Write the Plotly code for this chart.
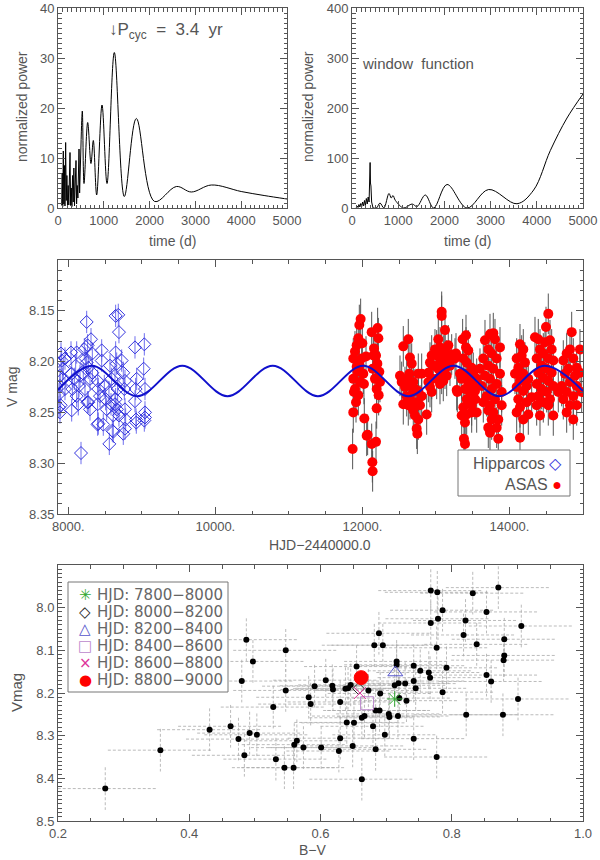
# Activity cycle figure: periodogram, window function, V light curve, colour-magnitude plot
import plotly.graph_objects as go

FONT = "Liberation Sans"
GREY = "#555555"

# --- periodogram (top left) ---
per_noise_t = [80, 92, 104, 116, 128, 140, 152, 167, 180, 194, 208, 222, 236, 250, 262, 276,
               290, 304, 318, 332, 346, 360, 374, 393, 406, 420, 434, 446, 459, 472, 486, 500]
per_noise_p = [0.5, 7.0, 0.3, 11.4, 0.8, 8.5, 0.4, 13.1, 1.5, 6.5, 0.3, 4.5, 0.6, 9.0, 11.1, 0.5,
               4.0, 0.3, 6.5, 1.2, 8.0, 0.4, 6.0, 9.5, 0.8, 4.5, 2.0, 9.0, 11.8, 3.0, 7.0, 12.0]
per_smooth_t = [500, 531, 568, 648, 720, 771, 844, 961, 1070, 1230, 1448, 1710, 2110, 2584,
                2911, 3348, 4000, 4500, 5000]
per_smooth_p = [12.0, 19.4, 4.9, 17.1, 8.9, 13.5, 2.6, 20.6, 4.9, 31.1, 2.3, 17.9, 1.3, 4.3,
                3.2, 4.6, 3.3, 2.5, 1.8]

# --- window function (top right) ---
win_noise_t = [90, 110, 130, 150, 170, 190, 210, 230, 250, 270, 290, 310, 330, 350, 370, 385,
               392, 400, 410, 425, 455]
win_noise_p = [0, 4, 1, 7, 2, 9, 3, 12, 4, 15, 5, 19, 8, 22, 12, 45, 91, 50, 44, 12, 0]
win_smooth_t = [455, 530, 606, 690, 800, 850, 887, 940, 1118, 1300, 1407, 1587, 1768, 2057,
                2489, 2958, 3571, 3932, 4293, 4654, 5000]
win_smooth_p = [0, 0, 10, 0, 29, 20, 25, 15, 0, 8, 3, 26, 0, 47, 0, 37, 8.5, 36, 115, 180, 228]

# --- light curve (middle) ---
hip_t = [7901, 7887, 7887, 7873, 7873, 7910, 7932, 7955, 7955, 7919, 7896, 7887,
         8037, 8046, 8055, 8046, 8082, 8114, 8114, 8136, 8100, 8145, 8159, 8173,
         8250, 8218, 8236, 8263, 8272, 8309, 8327, 8295, 8204, 8227, 8272, 8295, 8250, 8327, 8259,
         8399, 8408, 8431, 8454, 8454, 8399, 8490, 8508, 8522, 8476, 8399, 8408,
         8567, 8590, 8553, 8581, 8612, 8558, 8644, 8680, 8689, 8644, 8658, 8635, 8671, 8644,
         8662, 8689, 8635, 8612, 8599, 8726, 8748, 8771, 8762, 8771, 8780, 8771, 8748,
         8907, 8930, 8916, 8907, 8921, 8925, 9034, 9025, 9043, 9043, 9043, 9034]
hip_v = [8.192, 8.214, 8.224, 8.232, 8.245, 8.199, 8.207, 8.197, 8.227, 8.217, 8.243, 8.250,
         8.191, 8.212, 8.227, 8.248, 8.217, 8.191, 8.234, 8.242, 8.204, 8.224, 8.214, 8.290,
         8.161, 8.188, 8.197, 8.184, 8.206, 8.178, 8.192, 8.217, 8.212, 8.227, 8.240, 8.247, 8.201, 8.211, 8.240,
         8.219, 8.227, 8.234, 8.189, 8.199, 8.242, 8.224, 8.237, 8.247, 8.262, 8.262, 8.261,
         8.204, 8.217, 8.230, 8.242, 8.253, 8.281, 8.155, 8.154, 8.171, 8.191, 8.202, 8.214, 8.227, 8.237,
         8.247, 8.253, 8.242, 8.269, 8.268, 8.199, 8.211, 8.219, 8.227, 8.247, 8.257, 8.266, 8.271,
         8.186, 8.217, 8.227, 8.239, 8.257, 8.260, 8.183, 8.207, 8.227, 8.250, 8.255, 8.258]
hip_err = 0.011

asas_t = [11976, 11958, 11944, 11899, 11876, 11922, 11990, 12012, 11876, 11885, 11913, 11876,
          11944, 11967, 12049, 12021, 11867, 12026, 12058, 11922, 11999, 11899, 11931, 11958,
          12126, 12207, 12217, 12158, 12185, 12203, 12230, 12171, 12239, 12194, 12221, 12194,
          12126, 12185, 12135, 12139, 12071, 12148, 12139,
          12556, 12624, 12511, 12534, 12647, 12670, 12638, 12602, 12579, 12692, 12715, 12760,
          12806, 12692, 12647, 12624, 12556, 12738, 12783, 12692, 12715, 12760, 12738, 12747,
          12806, 12874, 12897, 12670, 12602, 12760,
          13078, 13078, 13123, 13032, 13055, 12987, 13123, 13168, 12942, 13010, 13100, 12919,
          13055, 13146, 12964, 13032, 13123, 13078, 13146, 12942, 13010, 13100, 12919, 12942,
          13055, 13214, 13259, 13191, 12897, 13010, 13273, 13291, 13327, 13282,
          13409, 13363, 13409, 13440, 13372, 13418, 13486, 13395, 13463, 13350, 13440, 13508,
          13395, 13463, 13418, 13531, 13486, 13372, 13418, 13350, 13395, 13381, 13395, 13486, 13531,
          13735, 13780, 13667, 13803, 13712, 13871, 13758, 13644, 13826, 13712, 13780, 13871,
          13667, 13735, 13826, 13622, 13758, 13894, 13690, 13803, 13644, 13735, 13894, 13712,
          13780, 13758, 13848, 13712, 13735, 13826, 13848, 13599, 13554, 13508, 13531, 13554,
          14143, 14188, 14098, 14166, 14211, 14120, 14075, 14188, 14143, 14256, 14098, 14188,
          14120, 14234, 14143, 14302, 14098, 14256, 14143, 14188, 14234,
          14528, 14497, 14347, 14392, 14551, 14483, 14415, 14574, 14460, 14370, 14528, 14596,
          14438, 14506, 14392, 14574, 14460, 14528, 14370, 14596, 14438, 14506, 14392, 14551,
          14460, 14370, 14528, 14415, 14596, 14664,
          14846, 14823, 14778, 14732, 14868, 14914, 14800, 14755, 14891, 14959, 14823, 14710,
          14914, 14778, 14868, 14732, 14823, 14914, 14778, 14868, 14959, 14982]
asas_v = [8.158, 8.164, 8.177, 8.190, 8.197, 8.205, 8.197, 8.212, 8.217, 8.230, 8.240, 8.250,
          8.233, 8.220, 8.195, 8.222, 8.286, 8.256, 8.273, 8.184, 8.182, 8.227, 8.210, 8.204,
          8.171, 8.167, 8.177, 8.187, 8.194, 8.202, 8.210, 8.217, 8.220, 8.227, 8.233, 8.246,
          8.281, 8.279, 8.299, 8.308, 8.272, 8.194, 8.207,
          8.185, 8.178, 8.214, 8.220, 8.196, 8.202, 8.212, 8.217, 8.225, 8.220, 8.227, 8.212,
          8.212, 8.230, 8.237, 8.243, 8.242, 8.240, 8.243, 8.248, 8.253, 8.257, 8.266, 8.271,
          8.234, 8.252, 8.220, 8.224, 8.234, 8.229,
          8.151, 8.155, 8.169, 8.178, 8.186, 8.188, 8.188, 8.184, 8.194, 8.194, 8.194, 8.201,
          8.201, 8.199, 8.204, 8.207, 8.207, 8.212, 8.214, 8.217, 8.217, 8.219, 8.225, 8.230,
          8.222, 8.193, 8.197, 8.204, 8.211, 8.189, 8.192, 8.230, 8.212, 8.228,
          8.174, 8.178, 8.186, 8.189, 8.197, 8.201, 8.206, 8.212, 8.212, 8.217, 8.220, 8.224,
          8.227, 8.230, 8.237, 8.237, 8.243, 8.245, 8.252, 8.253, 8.260, 8.276, 8.281, 8.250, 8.229,
          8.173, 8.172, 8.179, 8.178, 8.188, 8.186, 8.192, 8.197, 8.197, 8.204, 8.207, 8.212,
          8.214, 8.217, 8.222, 8.224, 8.227, 8.230, 8.234, 8.237, 8.240, 8.243, 8.243, 8.248,
          8.250, 8.257, 8.257, 8.265, 8.270, 8.265, 8.276, 8.207, 8.217, 8.211, 8.237, 8.250,
          8.183, 8.188, 8.197, 8.194, 8.201, 8.206, 8.212, 8.212, 8.219, 8.217, 8.225, 8.229,
          8.237, 8.240, 8.245, 8.235, 8.250, 8.252, 8.275, 8.257, 8.224,
          8.153, 8.166, 8.176, 8.178, 8.179, 8.181, 8.188, 8.188, 8.192, 8.197, 8.197, 8.199,
          8.204, 8.207, 8.211, 8.211, 8.216, 8.219, 8.222, 8.224, 8.227, 8.230, 8.234, 8.237,
          8.240, 8.243, 8.243, 8.253, 8.253, 8.230,
          8.171, 8.188, 8.192, 8.199, 8.197, 8.206, 8.207, 8.212, 8.214, 8.211, 8.220, 8.224,
          8.224, 8.230, 8.234, 8.237, 8.243, 8.243, 8.250, 8.257, 8.188, 8.230]
asas_err = 0.02

# sine fit read at its extremes
fit_t = [7860, 8320, 8935, 9550, 10165, 10780, 11395, 12010, 12625, 13240, 13860, 14480, 15000]
fit_v = [8.228, 8.204, 8.234, 8.204, 8.234, 8.204, 8.234, 8.204, 8.234, 8.204, 8.234, 8.204, 8.229]

# --- colour-magnitude (bottom) ---
bv = [0.272, 0.356, 0.431, 0.463, 0.475, 0.492, 0.503, 0.484, 0.487, 0.497, 0.480, 0.528, 0.532,
      0.545, 0.559, 0.547, 0.547, 0.560, 0.564,
      0.574, 0.582, 0.585, 0.591, 0.601, 0.608, 0.618, 0.619, 0.628, 0.630, 0.630, 0.638, 0.640,
      0.642, 0.646, 0.649, 0.651, 0.655, 0.663, 0.663, 0.667, 0.673, 0.680, 0.682, 0.684, 0.684,
      0.689, 0.690, 0.691, 0.695, 0.698, 0.704, 0.705, 0.713, 0.716, 0.716, 0.718, 0.719, 0.720,
      0.729, 0.731, 0.742, 0.742, 0.742, 0.745, 0.752, 0.765, 0.767, 0.768, 0.768, 0.777, 0.777,
      0.778, 0.779, 0.786, 0.786, 0.792, 0.818, 0.821, 0.822, 0.832, 0.838, 0.853, 0.853, 0.860,
      0.871, 0.878, 0.879, 0.880, 0.880, 0.901, 0.906]
vmag = [8.424, 8.334, 8.286, 8.278, 8.308, 8.294, 8.298, 8.346, 8.075, 8.126, 8.172, 8.233, 8.355,
        8.375, 8.375, 8.100, 8.194, 8.321, 8.312,
        8.328, 8.210, 8.226, 8.184, 8.328, 8.170, 8.183, 8.192, 8.336, 8.306, 8.221, 8.190, 8.269,
        8.189, 8.181, 8.324, 8.270, 8.138, 8.402, 8.258, 8.254, 8.194, 8.278, 8.088, 8.332, 8.241,
        8.060, 8.241, 8.201, 8.088, 8.298, 8.249, 8.256, 8.182, 8.134, 8.126, 8.254, 8.177, 8.212,
        8.178, 8.218, 8.136, 8.172, 8.307, 8.189, 8.148, 8.152, 8.164, 7.960, 8.036, 8.094, 8.350,
        7.964, 8.026, 8.006, 8.198, 8.141, 8.064, 8.030, 8.251, 7.966, 8.086, 8.010, 8.158, 8.173,
        7.953, 8.251, 8.123, 8.112, 8.074, 8.214, 8.043]
bv_err = 0.08
v_err = 0.05

grp_names = ["HJD: 7800\u22128000", "HJD: 8000\u22128200", "HJD: 8200\u22128400",
             "HJD: 8400\u22128600", "HJD: 8600\u22128800", "HJD: 8800\u22129000"]
grp_bv = [0.713, 0.658, 0.714, 0.671, 0.660, 0.662]
grp_v = [8.214, 8.190, 8.152, 8.224, 8.200, 8.164]
grp_symbols = ["asterisk-open", "diamond-open", "triangle-up-open", "square-open", "x-thin-open", "circle"]
grp_glyphs = ["\u2733", "\u25c7", "\u25b3", "\u25a1", "\u00d7", "\u25cf"]
grp_colors = ["#33aa33", "#222222", "#5555cc", "#bb88cc", "#dd3399", "#ff0000"]
grp_sizes = [13, 9, 13, 13, 12, 14]

fig = go.Figure()

# periodogram
fig.add_trace(go.Scatter(x=per_noise_t, y=per_noise_p, mode="lines", line=dict(color="black", width=1),
                         xaxis="x", yaxis="y", showlegend=False))
fig.add_trace(go.Scatter(x=per_smooth_t, y=per_smooth_p, mode="lines",
                         line=dict(color="black", width=1, shape="spline", smoothing=1.0),
                         xaxis="x", yaxis="y", showlegend=False))
# window function
fig.add_trace(go.Scatter(x=win_noise_t, y=win_noise_p, mode="lines", line=dict(color="black", width=1),
                         xaxis="x2", yaxis="y2", showlegend=False))
fig.add_trace(go.Scatter(x=win_smooth_t, y=win_smooth_p, mode="lines",
                         line=dict(color="black", width=1, shape="spline", smoothing=1.0),
                         xaxis="x2", yaxis="y2", showlegend=False))

# light curve
fig.add_trace(go.Scatter(x=hip_t, y=hip_v, mode="markers", xaxis="x3", yaxis="y3", showlegend=False,
                         marker=dict(symbol="diamond-open", size=10, color="#3333dd", line=dict(width=1)),
                         error_y=dict(type="constant", value=hip_err, color="#6f6fee", thickness=1, width=0)))
fig.add_trace(go.Scatter(x=asas_t, y=asas_v, mode="markers", xaxis="x3", yaxis="y3", showlegend=False,
                         marker=dict(symbol="circle", size=10, color="#ff0000"),
                         error_y=dict(type="constant", value=asas_err, color="#555555", thickness=1, width=0)))
fig.add_trace(go.Scatter(x=fit_t, y=fit_v, mode="lines", xaxis="x3", yaxis="y3", showlegend=False,
                         line=dict(color="#1010cc", width=2, shape="spline", smoothing=1.0)))

# colour-magnitude error bars (dashed)
ex, ey = [], []
for b, v in zip(bv, vmag):
    ex += [b - bv_err, b + bv_err, None, b, b, None]
    ey += [v, v, None, v - v_err, v + v_err, None]
fig.add_trace(go.Scatter(x=ex, y=ey, mode="lines", xaxis="x4", yaxis="y4", showlegend=False,
                         line=dict(color="#aaaaaa", width=0.8, dash="3px,2px")))
fig.add_trace(go.Scatter(x=bv, y=vmag, mode="markers", xaxis="x4", yaxis="y4", showlegend=False,
                         marker=dict(color="black", size=6)))
for i in range(len(grp_names)):
    fig.add_trace(go.Scatter(x=[grp_bv[i]], y=[grp_v[i]], mode="markers", name=grp_names[i],
                             xaxis="x4", yaxis="y4", showlegend=False,
                             marker=dict(symbol=grp_symbols[i], size=grp_sizes[i], color=grp_colors[i],
                                         line=dict(width=1, color=grp_colors[i]))))

W, H = 600, 860


def px(x):
    return x / W


def py(y):
    return 1 - y / H


def axis(domain, rng, dtick, minor, fmt, anchor, suffix="", tickvals=None):
    d = dict(domain=domain, range=rng, dtick=dtick, tick0=0, tickformat=fmt, ticksuffix=suffix,
             anchor=anchor, automargin=False, showline=True, linecolor="#555", linewidth=1,
             mirror="allticks", ticks="inside", ticklen=7, tickwidth=1, tickcolor="#555",
             showgrid=False, zeroline=False, ticklabeloverflow="allow",
             tickfont=dict(family=FONT, size=13, color=GREY),
             minor=dict(dtick=minor, tick0=0, ticks="inside", ticklen=3.5, tickwidth=1,
                        tickcolor="#555", showgrid=False))
    if tickvals is not None:
        d.update(tickmode="array", tickvals=tickvals)
    return d


fig.update_layout(
    template="none",
    width=W, height=H, margin=dict(l=0, r=0, t=0, b=0),
    plot_bgcolor="white", paper_bgcolor="white", showlegend=False,
    xaxis=axis([px(58), px(287)], [0, 5000], 1000, 100, "d", "y"),
    yaxis=axis([py(208), py(8)], [0, 40], 10, 1, "d", "x"),
    xaxis2=axis([px(352), px(583)], [0, 5000], 1000, 100, "d", "y2"),
    yaxis2=axis([py(208), py(8)], [0, 400], 100, 10, "d", "x2"),
    xaxis3=axis([px(58), px(583)], [7860, 15000], 2000, 500, "d", "y3", "."),
    yaxis3=axis([py(514), py(260)], [8.35, 8.10], 0.05, 0.01, ".2f", "x3",
                tickvals=[8.15, 8.20, 8.25, 8.30, 8.35]),
    xaxis4=axis([px(58), px(583)], [0.2, 1.0], 0.2, 0.05, ".1f", "y4"),
    yaxis4=axis([py(821), py(565)], [8.5, 7.9], 0.1, 0.01, ".1f", "x4",
                tickvals=[8.0, 8.1, 8.2, 8.3, 8.4, 8.5]),
)


def label(text, x, y, size=14, angle=0, xanchor="center", xref="paper", yref="paper", color=GREY,
          family=FONT):
    fig.add_annotation(text=text, x=x, y=y, xref=xref, yref=yref, showarrow=False, textangle=angle,
                       xanchor=xanchor, yanchor="middle", font=dict(family=family, size=size, color=color))


label("normalized power", px(22), py(107), angle=-90)
label("normalized power", px(308), py(107), angle=-90)
label("time (d)", px(172), py(241))
label("time (d)", px(467), py(241))
label("\u2193P<sub>cyc</sub>  =  3.4  yr", 1080, 35.3, size=17, xanchor="left", xref="x", yref="y")
label("window  function", 173, 288, size=15, xanchor="left", xref="x2", yref="y2")
label("V mag", px(12), py(387), angle=-90)
label("HJD\u22122440000.0", px(320), py(545))
label("Vmag", px(16), py(693), angle=-90, size=15)
label("B\u2212V", px(313), py(850))

# legend of the light curve: text then symbol
fig.add_shape(type="rect", xref="paper", yref="paper", x0=px(458), x1=px(570), y0=py(496), y1=py(450),
              line=dict(color="#777", width=1), fillcolor="white")
label("Hipparcos <span style='color:#3333dd'>\u25c7</span>", px(564), py(463), size=16, xanchor="right")
label("ASAS <span style='color:#ff0000'>\u25cf</span>", px(564), py(484), size=16, xanchor="right")

# legend of the colour-magnitude panel
fig.add_shape(type="rect", xref="paper", yref="paper", x0=px(68), x1=px(228), y0=py(692), y1=py(582),
              line=dict(color="#777", width=1), fillcolor="white")
for i in range(len(grp_names)):
    row = 595 + 17 * i
    label(grp_glyphs[i], px(85), py(row), size=15, color=grp_colors[i], family="DejaVu Sans")
    label(grp_names[i], px(95), py(row), size=15, xanchor="left", color="#666", family="DejaVu Sans")

# drop the default 8px body margin so the 600x860 figure fills the window
fig.write_html("out.html", config={"displayModeBar": False},
               post_script="document.body.style.margin='0px';")
